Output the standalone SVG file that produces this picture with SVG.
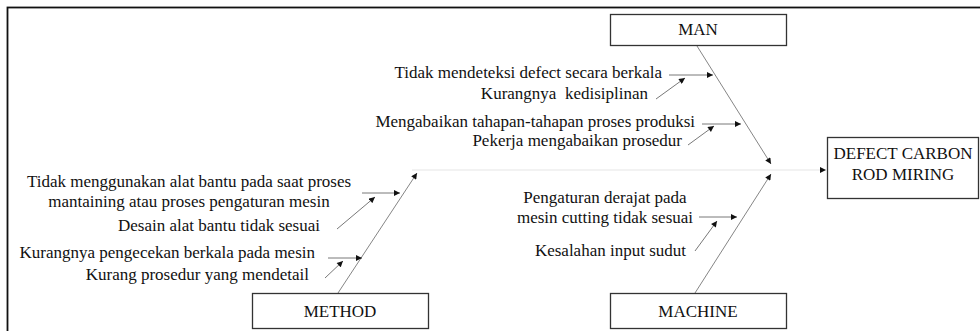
<svg xmlns="http://www.w3.org/2000/svg" width="980" height="331" viewBox="0 0 980 331">
  <style>
    .frame { fill: none; stroke: #111; stroke-width: 1.8; }
    .box rect { fill: #fff; stroke: #333; stroke-width: 1.3; }
    .box text { font-family: "Liberation Serif", "Times New Roman", serif; font-size: 17px; fill: #111; text-anchor: middle; }
    .cause { font-family: "Liberation Serif", "Times New Roman", serif; font-size: 17px; fill: #111; }
    .end { text-anchor: end; }
    .mid { text-anchor: middle; }
    .spine { stroke: #666; stroke-width: 0.8; fill: none; marker-end: url(#tip); }
    .trunk { stroke: #e6e6e6; stroke-width: 1.2; fill: none; marker-end: url(#tip); }
    .twig { stroke: #555; stroke-width: 0.8; fill: none; marker-end: url(#tip); }
  </style>
  <defs>
    <marker id="tip" viewBox="0 0 10 10" refX="10" refY="5" markerWidth="7" markerHeight="6" markerUnits="userSpaceOnUse" orient="auto">
      <path d="M0,0 L10,5 L0,10 Z" fill="#111"/>
    </marker>
  </defs>

  <rect width="980" height="331" fill="#fff"/>
  <!-- page frame, open towards right and bottom -->
  <rect class="frame" x="7.5" y="7.5" width="1000" height="400"/>

  <!-- connectors: trunk, main bones, sub-causes -->
  <g id="connectors">
    <line class="trunk" x1="412" y1="170" x2="826" y2="170"/>
    <line class="spine" x1="697" y1="46" x2="771" y2="164"/>
    <line class="spine" x1="695" y1="293" x2="771" y2="174"/>
    <line class="spine" x1="338" y1="293" x2="417" y2="173"/>

    <line class="twig" x1="669" y1="75" x2="713" y2="75"/>
    <line class="twig" x1="656" y1="99" x2="685" y2="78"/>
    <line class="twig" x1="702" y1="124" x2="741" y2="124"/>
    <line class="twig" x1="688" y1="145" x2="714" y2="126"/>

    <line class="twig" x1="362" y1="193" x2="400" y2="193"/>
    <line class="twig" x1="337" y1="229" x2="375" y2="197"/>
    <line class="twig" x1="328" y1="258" x2="362" y2="258"/>
    <line class="twig" x1="325" y1="278" x2="343" y2="261"/>

    <line class="twig" x1="699" y1="217" x2="737" y2="217"/>
    <line class="twig" x1="695" y1="251" x2="717" y2="221"/>
  </g>

  <g id="man" class="box">
    <rect x="610.5" y="14.5" width="176" height="31"/>
    <text x="698" y="35">MAN</text>
  </g>
  <g id="method" class="box">
    <rect x="252.5" y="293.5" width="176" height="35"/>
    <text x="340" y="317">METHOD</text>
  </g>
  <g id="machine" class="box">
    <rect x="610.5" y="293.5" width="176" height="35"/>
    <text x="698" y="317">MACHINE</text>
  </g>
  <g id="effect" class="box">
    <rect x="827.5" y="137.5" width="151" height="61"/>
    <text x="903" y="159">DEFECT CARBON</text>
    <text x="903" y="180">ROD MIRING</text>
  </g>

  <g id="man-causes">
    <text class="cause end" x="662" y="78">Tidak mendeteksi defect secara berkala</text>
    <text class="cause end" x="648" y="99" xml:space="preserve">Kurangnya  kedisiplinan</text>
    <text class="cause end" x="695" y="127">Mengabaikan tahapan-tahapan proses produksi</text>
    <text class="cause end" x="682" y="146">Pekerja mengabaikan prosedur</text>
  </g>

  <g id="method-causes">
    <text class="cause mid" x="189" y="187">Tidak menggunakan alat bantu pada saat proses</text>
    <text class="cause mid" x="189" y="207">mantaining atau proses pengaturan mesin</text>
    <text class="cause end" x="320" y="231">Desain alat bantu tidak sesuai</text>
    <text class="cause end" x="315" y="258">Kurangnya pengecekan berkala pada mesin</text>
    <text class="cause end" x="309" y="280">Kurang prosedur yang mendetail</text>
  </g>

  <g id="machine-causes">
    <text class="cause mid" x="605" y="203">Pengaturan derajat pada</text>
    <text class="cause mid" x="605" y="223">mesin cutting tidak sesuai</text>
    <text class="cause end" x="686" y="256">Kesalahan input sudut</text>
  </g>
</svg>
